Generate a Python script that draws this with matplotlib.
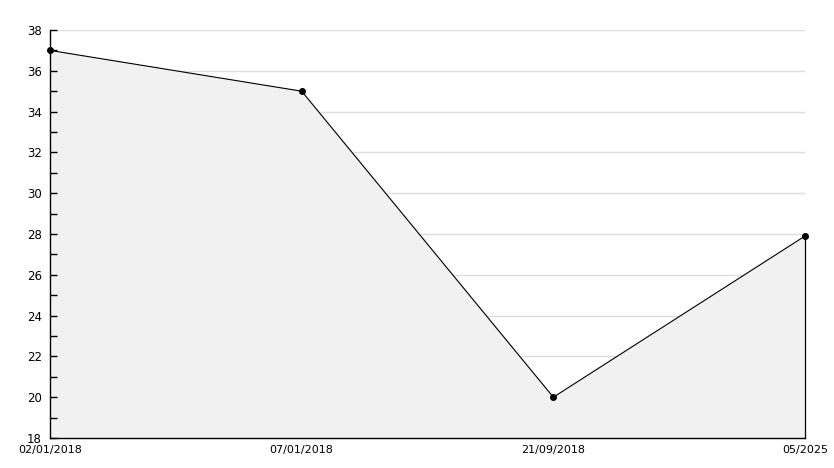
import matplotlib
matplotlib.use('Agg')
import matplotlib.pyplot as plt
from matplotlib.ticker import MultipleLocator

labels = ['02/01/2018', '07/01/2018', '21/09/2018', '05/2025']
values = [37.0, 35.0, 20.0, 27.9]
grid_levels = [20, 22, 24, 26, 28, 30, 32, 34, 36, 38]

plt.rcParams['font.family'] = 'DejaVu Sans'

fig = plt.figure(figsize=(8.34, 4.68), dpi=100)
ax = fig.add_axes([50 / 834, 30 / 468, 755 / 834, 408 / 468])

x = list(range(len(labels)))
for g in grid_levels:
    ax.axhline(g, color='#dddddd', lw=1, zorder=0.5)
ax.fill_between(x, values, 18, color='#f1f1f1', zorder=1)
ax.plot([x[-1], x[-1]], [18, values[-1]], color='black', lw=0.9, zorder=3, clip_on=False)
ax.plot(x, values, color='black', lw=0.8, marker='o', markersize=4, zorder=4, clip_on=False)

ax.set_xlim(0, len(labels) - 1)
ax.set_ylim(18, 38)
ax.set_xticks(x)
ax.set_xticklabels(labels)
ax.yaxis.set_major_locator(MultipleLocator(2))
ax.yaxis.set_minor_locator(MultipleLocator(1))
ax.set_axisbelow(False)

for side in ['top', 'right']:
    ax.spines[side].set_visible(False)
ax.spines['left'].set_linewidth(1)
ax.spines['bottom'].set_linewidth(1)

ax.tick_params(axis='y', which='both', direction='in', length=5, width=1, labelsize=8.5, pad=6)
ax.tick_params(axis='x', length=0, labelsize=8, pad=5)

plt.savefig('out.png', dpi=100)
